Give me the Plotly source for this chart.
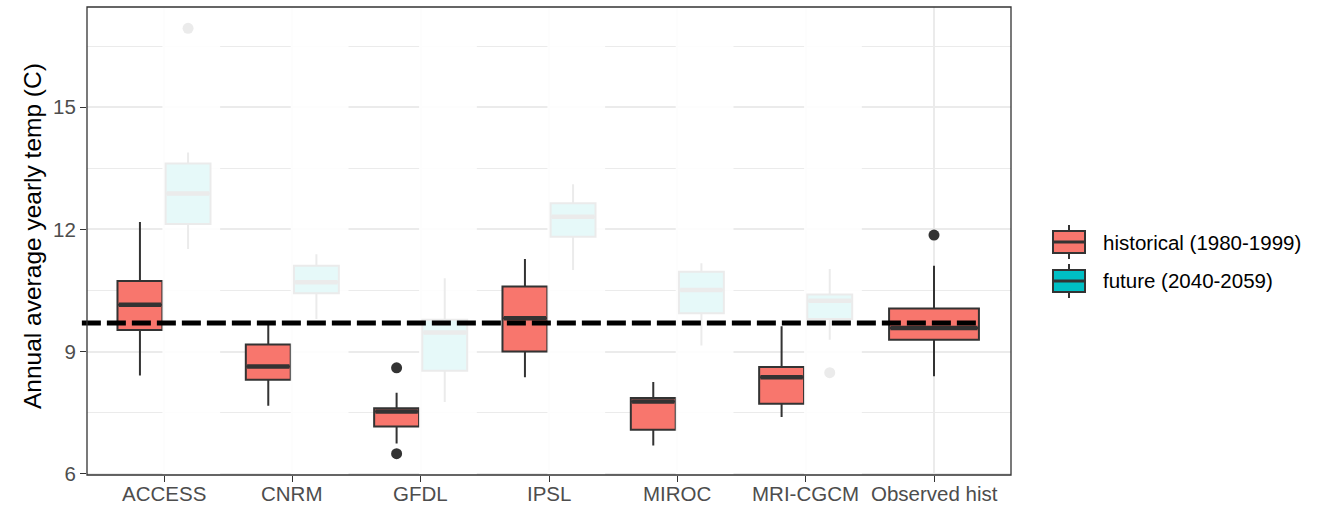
import plotly.graph_objects as go

# ---- data -------------------------------------------------------------
categories = ["ACCESS", "CNRM", "GFDL", "IPSL", "MIROC", "MRI-CGCM", "Observed hist"]
models = categories[:6]

# historical (1980-1999): six models followed by the observed record
hist_lower = [8.41, 7.67, 6.74, 8.37, 6.69, 7.39, 8.39]
hist_q1 = [9.53, 8.31, 7.16, 9.00, 7.08, 7.72, 9.29]
hist_median = [10.15, 8.63, 7.53, 9.82, 7.77, 8.37, 9.58]
hist_q3 = [10.73, 9.17, 7.61, 10.60, 7.86, 8.62, 10.06]
hist_upper = [12.18, 9.66, 7.99, 11.27, 8.25, 9.62, 11.11]
hist_outlier_cat = ["GFDL", "GFDL", "Observed hist"]
hist_outlier_val = [8.60, 6.49, 11.86]

# future (2040-2059): six models
fut_lower = [11.52, 9.80, 7.76, 11.00, 9.15, 9.29]
fut_q1 = [12.13, 10.43, 8.53, 11.82, 9.94, 9.80]
fut_median = [12.88, 10.70, 9.47, 12.31, 10.51, 10.25]
fut_q3 = [13.62, 11.11, 9.78, 12.64, 10.96, 10.40]
fut_upper = [13.89, 11.39, 10.80, 13.11, 11.17, 11.03]
fut_outlier_cat = ["ACCESS", "MRI-CGCM"]
fut_outlier_val = [16.94, 8.48]

observed_mean = 9.70
series_labels = ["historical (1980-1999)", "future (2040-2059)"]

# ---- styling ----------------------------------------------------------
HIST_FILL = "#F8766D"
FUT_FILL = "#00BFC4"
INK = "#333333"
GRID = "#EBEBEB"
FONT = "Liberation Sans, Arial, sans-serif"
TICK_SIZE = 20.5
W, H = 1326, 505
ML, MR, MT, MB = 87, 315, 7, 30

DODGE = 0.75
BOX_W = 0.7

pos = {c: i + 1 for i, c in enumerate(categories)}
hist_x = [pos[m] - DODGE / 4 for m in models]
fut_x = [pos[m] + DODGE / 4 for m in models]
obs_x = pos["Observed hist"]

all_vals = hist_lower + hist_upper + fut_lower + fut_upper + hist_outlier_val + fut_outlier_val
lo, hi = min(all_vals), max(all_vals)
pad = (hi - lo) * 0.05
y_range = [lo - pad, hi + pad]
x_range = [0.4, len(categories) + 0.6]

fig = go.Figure()


def add_box(x, lower, q1, med, q3, upper, width, fill):
    fig.add_trace(go.Box(
        x=x, lowerfence=lower, q1=q1, median=med, q3=q3, upperfence=upper,
        width=width, fillcolor=fill, whiskerwidth=0,
        line=dict(color=INK, width=2), boxpoints=False,
        showlegend=False, hoverinfo="skip",
    ))
    # thicker median bar
    mx, my = [], []
    for xi, m in zip(x, med):
        mx += [xi - width / 2 + 0.01, xi + width / 2 - 0.01, None]
        my += [m, m, None]
    fig.add_trace(go.Scatter(x=mx, y=my, mode="lines", line=dict(color=INK, width=4.5),
                             showlegend=False, hoverinfo="skip"))


add_box(hist_x, hist_lower[:6], hist_q1[:6], hist_median[:6], hist_q3[:6], hist_upper[:6],
        BOX_W / 2, HIST_FILL)
add_box([obs_x], hist_lower[6:], hist_q1[6:], hist_median[6:], hist_q3[6:], hist_upper[6:],
        BOX_W, HIST_FILL)
add_box(fut_x, fut_lower, fut_q1, fut_median, fut_q3, fut_upper, BOX_W / 2, FUT_FILL)

# outlying years
hist_ox = [pos[c] - DODGE / 4 if c != "Observed hist" else pos[c] for c in hist_outlier_cat]
fut_ox = [pos[c] + DODGE / 4 for c in fut_outlier_cat]
fig.add_trace(go.Scatter(x=hist_ox + fut_ox, y=hist_outlier_val + fut_outlier_val, mode="markers",
                         marker=dict(color=INK, size=11), showlegend=False, hoverinfo="skip",
                         cliponaxis=False))

shapes = []
# translucent veil over the future boxes
for m in models:
    shapes.append(dict(type="rect", xref="x", yref="paper",
                       x0=pos[m] - DODGE / 4 + BOX_W / 4, x1=pos[m] + DODGE / 4 + 0.25,
                       y0=0, y1=1, fillcolor="white", opacity=0.9, line=dict(width=0),
                       layer="above"))


def xpaper(v):
    return (v - x_range[0]) / (x_range[1] - x_range[0])


def ypaper(v):
    return (v - y_range[0]) / (y_range[1] - y_range[0])


# observed mean reference line
shapes.append(dict(type="line", xref="paper", yref="paper",
                   x0=xpaper(0.36), x1=xpaper(len(categories) + 0.37),
                   y0=ypaper(observed_mean), y1=ypaper(observed_mean),
                   line=dict(color="black", width=5, dash="19px,6px"), layer="above"))

# panel border
shapes.append(dict(type="rect", xref="paper", yref="paper", x0=0, x1=1, y0=0, y1=1,
                   line=dict(color=INK, width=1.3), fillcolor="rgba(0,0,0,0)", layer="above"))

# pixel -> paper helpers for the pieces placed outside the panel
pw, ph = W - ML - MR, H - MT - MB


def px(xp):
    return (xp - ML) / pw


def py(yp):
    return (H - MB - yp) / ph


annotations = []

# category labels under the x axis
for c in categories:
    annotations.append(dict(text=c, xref="x", yref="paper", x=pos[c], y=py(493),
                            xanchor="center", yanchor="middle", showarrow=False,
                            font=dict(family=FONT, size=TICK_SIZE, color="#4D4D4D")))

# legend keys
for k, (label, fill) in enumerate(zip(series_labels, [HIST_FILL, FUT_FILL])):
    cy = 242 + 39 * k
    shapes.append(dict(type="line", xref="paper", yref="paper", x0=px(1069), x1=px(1069),
                       y0=py(cy - 17), y1=py(cy + 17), line=dict(color=INK, width=2)))
    shapes.append(dict(type="rect", xref="paper", yref="paper", x0=px(1053), x1=px(1085),
                       y0=py(cy - 11), y1=py(cy + 11), fillcolor=fill,
                       line=dict(color=INK, width=2)))
    shapes.append(dict(type="line", xref="paper", yref="paper", x0=px(1054), x1=px(1084),
                       y0=py(cy), y1=py(cy), line=dict(color=INK, width=3)))
    annotations.append(dict(text=label, xref="paper", yref="paper", x=px(1101), y=py(cy),
                            xanchor="left", yanchor="middle", showarrow=False,
                            font=dict(family=FONT, size=TICK_SIZE, color="black")))

annotations.append(dict(text="Annual average yearly temp (C)", xref="paper", yref="paper",
                        x=px(32), y=py(236), xanchor="center", yanchor="middle",
                        textangle=-90, showarrow=False,
                        font=dict(family=FONT, size=24.5, color="black")))

fig.update_layout(
    width=W, height=H, margin=dict(l=ML, r=MR, t=MT, b=MB, autoexpand=False),
    paper_bgcolor="white", plot_bgcolor="white",
    showlegend=False, boxmode="overlay",
    shapes=shapes, annotations=annotations,
    font=dict(family=FONT),
)
fig.update_xaxes(range=x_range, tickmode="array", tickvals=[pos[c] for c in categories],
                 showticklabels=False, showgrid=True, gridcolor=GRID, gridwidth=1.5,
                 zeroline=False, showline=False, ticks="outside", ticklen=6, tickwidth=1.3,
                 tickcolor=INK, automargin=False)
fig.update_yaxes(range=y_range, tick0=6, dtick=3, showgrid=True, gridcolor=GRID, gridwidth=1.5,
                 minor=dict(tick0=7.5, dtick=3, showgrid=True, gridcolor=GRID, gridwidth=0.8),
                 zeroline=False, showline=False, ticks="outside", ticklen=6, tickwidth=1.3,
                 tickcolor=INK, automargin=False,
                 tickfont=dict(family=FONT, size=TICK_SIZE, color="#4D4D4D"))

fig.write_html("out.html")
